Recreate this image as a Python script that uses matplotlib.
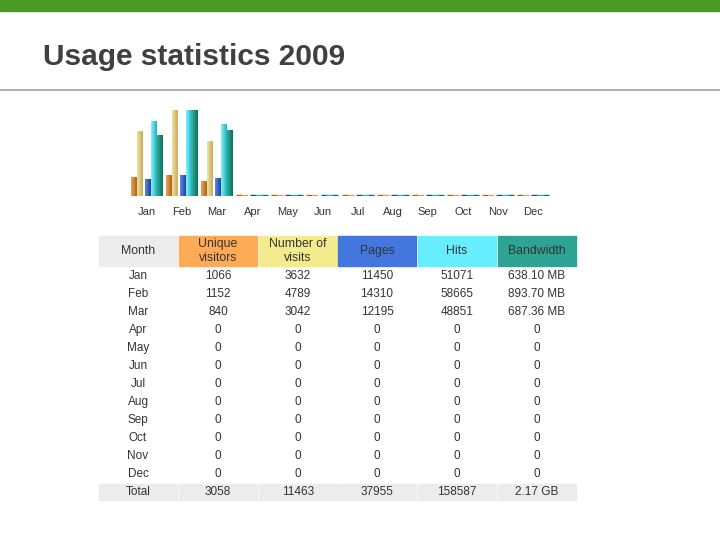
import numpy as np
import matplotlib
matplotlib.use("Agg")
import matplotlib.pyplot as plt
from matplotlib.patches import Rectangle
from matplotlib.colors import LinearSegmentedColormap

plt.rcParams['font.family'] = ['Liberation Sans', 'DejaVu Sans']

# data read from the AWStats summary
months = ['Jan', 'Feb', 'Mar', 'Apr', 'May', 'Jun',
          'Jul', 'Aug', 'Sep', 'Oct', 'Nov', 'Dec']
unique_visitors = [1066, 1152, 840, 0, 0, 0, 0, 0, 0, 0, 0, 0]
visits = [3632, 4789, 3042, 0, 0, 0, 0, 0, 0, 0, 0, 0]
pages = [11450, 14310, 12195, 0, 0, 0, 0, 0, 0, 0, 0, 0]
hits = [51071, 58665, 48851, 0, 0, 0, 0, 0, 0, 0, 0, 0]
bandwidth_mb = [638.10, 893.70, 687.36, 0, 0, 0, 0, 0, 0, 0, 0, 0]

headers = ['Month', 'Unique\nvisitors', 'Number of\nvisits', 'Pages', 'Hits', 'Bandwidth']
header_colors = ['#ececec', '#ffaa55', '#f4ec8c', '#4477dd', '#66eeff', '#2ea495']
# light -> dark for the shaded bars
bar_shades = [('#eaa456', '#b06418'), ('#f2e4a4', '#c4ac5c'), ('#5a88e6', '#22409c'),
              ('#86f2fa', '#1fb0c2'), ('#34ac94', '#09705e')]

fig = plt.figure(figsize=(7.2, 5.4), dpi=100)

# page decoration: green strip, title, rule
deco = fig.add_axes([0, 0, 1, 1])
deco.set_xlim(0, 720)
deco.set_ylim(540, 0)
deco.axis('off')
deco.add_patch(Rectangle((0, 0), 720, 11, color='#4a9a23'))
deco.plot([0, 720], [90, 90], color='#a0a0a0', lw=1.2)
deco.text(43, 57, 'Usage statistics 2009', fontsize=21.5, fontweight='bold',
          color='#404040', va='center', ha='left')

# bar chart: visitors/visits share a scale, pages/hits share a scale, bandwidth alone
x = np.arange(len(months))
vv_max = max(max(unique_visitors), max(visits))
ph_max = max(max(pages), max(hits))
bw_max = max(bandwidth_mb)
series = [
    (np.array(unique_visitors) / vv_max, -0.37),
    (np.array(visits) / vv_max, -0.20),
    (np.array(pages) / ph_max, 0.03),
    (np.array(hits) / ph_max, 0.20),
    (np.array(bandwidth_mb) / bw_max, 0.37),
]

ax = fig.add_axes([125 / 720, 1 - 196 / 540, 430 / 720, 88 / 540])
grad = np.linspace(0, 1, 32).reshape(1, -1)
for (vals, off), (c1, c2) in zip(series, bar_shades):
    cmap = LinearSegmentedColormap.from_list('shade', [c1, c2])
    bars = ax.bar(x + off, vals, width=0.17, color=c2, edgecolor='none')
    for b in bars:
        if b.get_height() > 0:
            im = ax.imshow(grad, cmap=cmap, aspect='auto', zorder=2,
                           extent=[b.get_x(), b.get_x() + b.get_width(), 0, b.get_height()])
            im.set_clip_path(b)
    zero = vals == 0
    ax.hlines(np.zeros(zero.sum()) + 0.008, x[zero] + off - 0.085, x[zero] + off + 0.085,
              color=c2, lw=1)
ax.set_xlim(-0.627, 11.627)
ax.set_ylim(0, 88 / 86)
ax.set_xticks(x)
ax.set_xticklabels(months, fontsize=8, color='#333333')
ax.tick_params(axis='x', length=0, pad=8)
ax.set_yticks([])
for s in ax.spines.values():
    s.set_visible(False)

# summary table
col_left = [99, 179, 259, 338, 418, 498]
col_w = 78
for cl, h, c in zip(col_left, headers, header_colors):
    deco.add_patch(Rectangle((cl, 236), col_w, 30, color=c))
    deco.text(cl + col_w / 2, 251, h, ha='center', va='center', fontsize=8.8,
              color='#333333', linespacing=1.25)

def fmt_bw(v):
    return '0' if v == 0 else f'{v:.2f} MB'

for i, m in enumerate(months):
    y = 276 + i * 18
    row = [m, str(unique_visitors[i]), str(visits[i]), str(pages[i]),
           str(hits[i]), fmt_bw(bandwidth_mb[i])]
    for cl, t in zip(col_left, row):
        deco.text(cl + col_w / 2, y, t, ha='center', va='center',
                  fontsize=8.5, color='#333333')

totals = ['Total', str(sum(unique_visitors)), str(sum(visits)), str(sum(pages)),
          str(sum(hits)), f'{sum(bandwidth_mb) / 1024:.2f} GB']
for cl, t in zip(col_left, totals):
    deco.add_patch(Rectangle((cl, 484), col_w, 16, color='#ececec'))
    deco.text(cl + col_w / 2, 492, t, ha='center', va='center',
              fontsize=8.5, color='#333333')

fig.savefig('out.png', dpi=100)
